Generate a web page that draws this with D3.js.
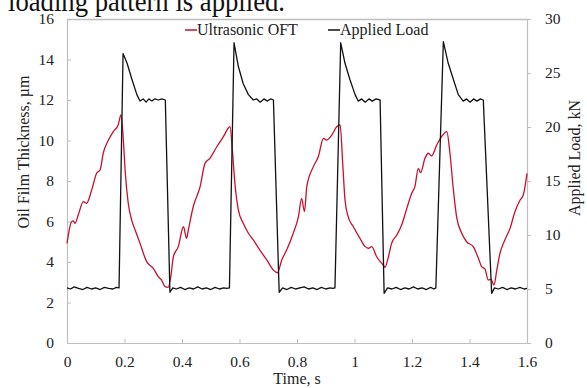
<!DOCTYPE html>
<html>
<head>
<meta charset="utf-8">
<script src="https://cdn.jsdelivr.net/npm/d3@7"></script>
<style>
  body { margin: 0; background: #fff; }
  svg { display: block; }
  text { font-family: "Liberation Serif", "Times New Roman", serif; fill: #222; }
  .axis path, .axis line { stroke: #bfbfbf; }
  .axis text { font-size: 15.5px; fill: #222; font-family: "Liberation Serif", "Times New Roman", serif; }
</style>
</head>
<body>
<svg id="chart" width="587" height="388"></svg>
<script>
// ultrasonic oil film thickness (um)
var oftTime = [0, 0.016, 0.022, 0.028, 0.039, 0.057, 0.068, 0.086, 0.103, 0.115, 0.126, 0.144, 0.161, 0.178, 0.188,
  0.196, 0.202, 0.213, 0.225, 0.237, 0.254, 0.277, 0.300, 0.318, 0.329, 0.341, 0.352,
  0.361, 0.370, 0.387, 0.405, 0.416, 0.422, 0.439, 0.463, 0.480, 0.497, 0.521, 0.544, 0.567,
  0.576, 0.584, 0.596, 0.613, 0.631, 0.648, 0.671, 0.695, 0.718, 0.732,
  0.747, 0.764, 0.787, 0.805, 0.816, 0.826, 0.834, 0.857, 0.874, 0.892, 0.903, 0.921, 0.938, 0.950,
  0.959, 0.967, 0.978, 0.996, 1.019, 1.037, 1.048, 1.060, 1.077, 1.100, 1.106,
  1.118, 1.129, 1.147, 1.164, 1.182, 1.199, 1.210, 1.222, 1.230, 1.245, 1.257, 1.268, 1.286, 1.303, 1.321,
  1.332, 1.344, 1.355, 1.373, 1.390, 1.413, 1.431, 1.442, 1.454, 1.465, 1.475, 1.485,
  1.495, 1.506, 1.523, 1.541, 1.558, 1.576, 1.587, 1.600];
var oftValue = [4.92, 5.99, 6.03, 5.91, 6.32, 6.98, 6.90, 7.56, 8.38, 8.54, 9.37, 10.02, 10.44, 10.77, 11.26,
  10.02, 8.54, 6.90, 6.07, 5.58, 4.92, 4.02, 3.69, 3.27, 3.11, 2.78, 2.75,
  3.27, 4.26, 4.76, 5.74, 5.17, 5.58, 6.73, 7.72, 8.87, 9.12, 9.69, 10.19, 10.68,
  9.37, 7.89, 6.57, 5.91, 5.42, 5.09, 4.59, 4.10, 3.60, 3.47,
  4.10, 4.59, 5.42, 6.24, 7.14, 6.49, 7.72, 8.71, 9.20, 10.10, 10.02, 10.27, 10.68, 10.77,
  8.87, 7.06, 6.24, 5.74, 5.17, 4.76, 4.68, 4.76, 4.26, 3.85, 3.74,
  4.26, 4.92, 5.33, 5.83, 6.65, 7.39, 7.72, 8.62, 8.41, 9.12, 9.37, 9.24, 9.78, 10.19, 10.44,
  9.37, 7.56, 6.24, 5.42, 5.00, 4.76, 4.18, 3.77, 3.65, 3.11, 3.14, 2.86,
  3.60, 4.43, 5.09, 5.66, 6.48, 7.06, 7.31, 8.38];

// applied load (kN)
var loadTime = [0, 0.012, 0.025, 0.04, 0.055, 0.07, 0.085, 0.10, 0.115, 0.13, 0.145, 0.16, 0.172, 0.181,
  0.195, 0.209, 0.226, 0.243, 0.254, 0.265, 0.275, 0.285, 0.295, 0.305, 0.318, 0.33, 0.342, 0.358,
  0.368, 0.38, 0.395, 0.41, 0.425, 0.44, 0.455, 0.47, 0.485, 0.50, 0.515, 0.53, 0.545, 0.556, 0.565,
  0.581, 0.596, 0.613, 0.631, 0.648, 0.66, 0.672, 0.685, 0.697, 0.708, 0.718, 0.738,
  0.75, 0.765, 0.78, 0.795, 0.81, 0.825, 0.84, 0.855, 0.87, 0.885, 0.90, 0.915, 0.925, 0.932,
  0.952, 0.967, 0.984, 1.002, 1.013, 1.025, 1.037, 1.05, 1.062, 1.075, 1.089, 1.103,
  1.115, 1.13, 1.145, 1.16, 1.175, 1.19, 1.205, 1.22, 1.235, 1.25, 1.265, 1.276, 1.283,
  1.309, 1.326, 1.344, 1.361, 1.378, 1.39, 1.402, 1.414, 1.426, 1.438, 1.448, 1.477,
  1.487, 1.50, 1.515, 1.53, 1.545, 1.56, 1.575, 1.59, 1.6];
var loadValue = [5.1, 5.0, 5.2, 5.05, 4.95, 5.15, 5.0, 5.1, 4.95, 5.15, 5.05, 5.0, 5.15, 5.1,
  26.8, 25.9, 24.4, 23.0, 22.4, 22.6, 22.3, 22.6, 22.4, 22.6, 22.5, 22.6, 22.5, 4.7,
  5.1, 5.0, 5.15, 4.95, 5.1, 5.0, 5.2, 5.0, 5.1, 4.95, 5.15, 5.0, 5.1, 5.05, 5.1,
  27.8, 25.6, 24.0, 23.0, 22.5, 22.6, 22.3, 22.6, 22.4, 22.6, 22.5, 4.7,
  5.1, 4.95, 5.15, 5.0, 5.1, 5.2, 5.0, 5.1, 4.95, 5.15, 5.0, 5.1, 5.05, 5.1,
  27.8, 25.9, 24.4, 23.0, 22.4, 22.6, 22.3, 22.6, 22.4, 22.6, 22.5, 4.6,
  5.1, 5.0, 5.15, 4.95, 5.1, 5.0, 5.2, 5.0, 5.1, 4.95, 5.15, 5.0, 5.1,
  27.9, 25.9, 24.4, 23.0, 22.4, 22.6, 22.3, 22.6, 22.4, 22.6, 22.5, 4.6,
  5.1, 5.0, 5.15, 4.95, 5.1, 5.0, 5.15, 5.0, 5.05];

var xTicks = [0, 0.2, 0.4, 0.6, 0.8, 1, 1.2, 1.4, 1.6];
var leftTicks = [0, 2, 4, 6, 8, 10, 12, 14, 16];
var rightTicks = [0, 5, 10, 15, 20, 25, 30];

var margin = {t: 19, r: 60, b: 45, l: 67};
var width = 587 - margin.l - margin.r,
    height = 388 - margin.t - margin.b;

var svg = d3.select('#chart');

// caption line from the page above, cut off at the top
svg.append('text')
    .attr('x', 8).attr('y', 11)
    .attr('textLength', 277).attr('lengthAdjust', 'spacingAndGlyphs')
    .style('font-size', '29px').style('fill', '#111')
    .text('loading pattern is applied.');

var plot = svg.append('g').attr('transform', 'translate(' + margin.l + ',' + margin.t + ')');

var scaleX = d3.scaleLinear().domain([0, 1.6]).range([0, width]);
var scaleY = d3.scaleLinear().domain([0, 16]).range([height, 0]);
var scaleY2 = d3.scaleLinear().domain([0, 30]).range([height, 0]);

// top border of plot area
plot.append('line').attr('x1', 0).attr('x2', width).attr('y1', 0.5).attr('y2', 0.5)
    .attr('stroke', '#bfbfbf').attr('stroke-width', 1.5);

var axisX = d3.axisBottom(scaleX).tickValues(xTicks).tickSizeInner(-4).tickSizeOuter(0).tickPadding(13)
    .tickFormat(function(d) { return d3.format('')(d); });
var axisY = d3.axisLeft(scaleY).tickValues(leftTicks).tickSizeInner(-4).tickSizeOuter(0).tickPadding(13);
var axisY2 = d3.axisRight(scaleY2).tickValues(rightTicks).tickSizeInner(4).tickSizeOuter(0).tickPadding(14);

plot.append('g').attr('class', 'axis').attr('transform', 'translate(0,' + height + ')').call(axisX);
plot.append('g').attr('class', 'axis').call(axisY);
var ax2 = plot.append('g').attr('class', 'axis').attr('transform', 'translate(' + width + ',0)').call(axisY2);
ax2.select('.domain').attr('stroke', '#9a9a9a');
plot.selectAll('.axis .domain').attr('stroke-width', 1.2);
plot.selectAll('.axis text').attr('font-family', null);

// lines
var oftData = oftTime.map(function(t, i) { return {t: t, v: oftValue[i]}; });
var loadData = loadTime.map(function(t, i) { return {t: t, v: loadValue[i]}; });

var oftLine = d3.line()
    .x(function(d) { return scaleX(d.t); })
    .y(function(d) { return scaleY(d.v); })
    .curve(d3.curveMonotoneX);
var loadLine = d3.line()
    .x(function(d) { return scaleX(d.t); })
    .y(function(d) { return scaleY2(d.v); });

plot.append('path').datum(oftData).attr('d', oftLine)
    .attr('fill', 'none').attr('stroke', '#c8102e').attr('stroke-width', 1.3);
plot.append('path').datum(loadData).attr('d', loadLine)
    .attr('fill', 'none').attr('stroke', '#111').attr('stroke-width', 1.3).attr('stroke-linejoin', 'round');

// legend
var legend = [{name: 'Ultrasonic OFT', color: '#c8102e', x: 185}, {name: 'Applied Load', color: '#111', x: 328}];
var lg = svg.selectAll('.legend').data(legend).enter().append('g').attr('class', 'legend');
lg.append('line')
    .attr('x1', function(d) { return d.x; }).attr('x2', function(d) { return d.x + 12; })
    .attr('y1', 30).attr('y2', 30)
    .attr('stroke', function(d) { return d.color; }).attr('stroke-width', 1.5);
lg.append('text')
    .attr('x', function(d) { return d.x + 12; }).attr('y', 35)
    .style('font-size', '16px')
    .text(function(d) { return d.name; });

// axis titles
svg.append('text')
    .attr('transform', 'translate(297,384)')
    .attr('text-anchor', 'middle').style('font-size', '16px')
    .text('Time, s');
svg.append('text')
    .attr('transform', 'translate(29,152) rotate(-90)')
    .attr('text-anchor', 'middle').style('font-size', '16px')
    .text('Oil Film Thickness, µm');
svg.append('text')
    .attr('transform', 'translate(580,158) rotate(-90)')
    .attr('text-anchor', 'middle').style('font-size', '16px')
    .text('Applied Load, kN');
</script>
</body>
</html>
